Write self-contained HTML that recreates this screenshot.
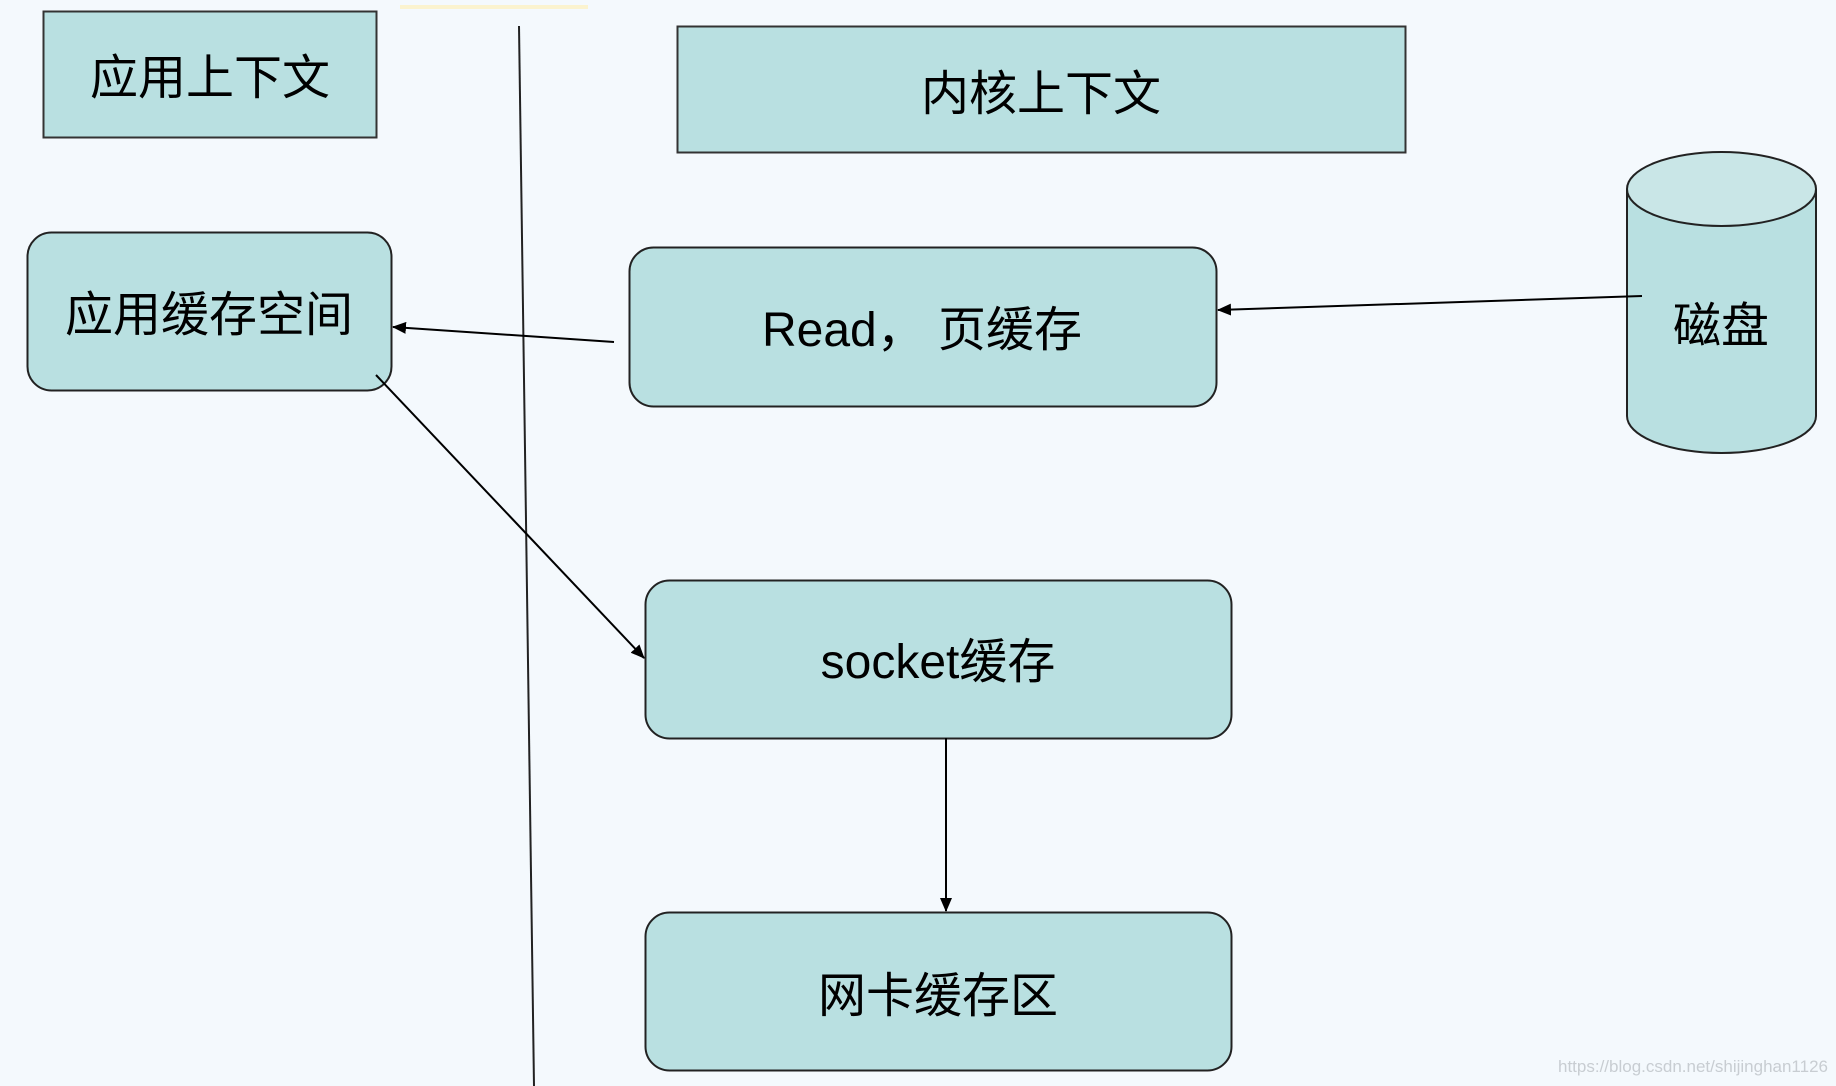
<!DOCTYPE html>
<html><head><meta charset="utf-8"><style>
html,body{margin:0;padding:0;background:#f4f9fd;}
svg{display:block}
text{font-family:"Liberation Sans","Noto Sans CJK SC",sans-serif;fill:#000;}
</style></head><body>
<svg width="1836" height="1086" viewBox="0 0 1836 1086" xmlns="http://www.w3.org/2000/svg">
<defs><marker id="a" markerWidth="14" markerHeight="12" refX="13" refY="6" orient="auto" markerUnits="userSpaceOnUse"><path d="M0,0 L14,6 L0,12 z" fill="#000"/></marker></defs>
<rect width="1836" height="1086" fill="#f4f9fd"/>
<line x1="400" y1="7" x2="588" y2="7" stroke="#fbf3cf" stroke-width="4"/>
<rect x="43.5" y="11.5" width="333" height="126" fill="#b9e0e1" stroke="#333" stroke-width="2"/>
<text x="210" y="94" font-size="48" text-anchor="middle">应用上下文</text>
<line x1="519" y1="26" x2="534" y2="1086" stroke="#222" stroke-width="2"/>
<rect x="677.5" y="26.5" width="728" height="126" fill="#b9e0e1" stroke="#333" stroke-width="2"/>
<text x="1041" y="110" font-size="48" text-anchor="middle">内核上下文</text>
<rect x="27.5" y="232.5" width="364" height="158" rx="24" fill="#b9e0e1" stroke="#222" stroke-width="2"/>
<text x="209" y="331" font-size="48" text-anchor="middle">应用缓存空间</text>
<rect x="629.5" y="247.5" width="587" height="159" rx="24" fill="#b9e0e1" stroke="#222" stroke-width="2"/>
<text x="922" y="346" font-size="48" text-anchor="middle">Read， 页缓存</text>
<path d="M1627,189 L1627,416 A94.5,37 0 0 0 1816,416 L1816,189" fill="#b9e0e1" stroke="#222" stroke-width="2"/>
<ellipse cx="1721.5" cy="189" rx="94.5" ry="37" fill="#c9e6e7" stroke="#222" stroke-width="2"/>
<text x="1721" y="342" font-size="48" text-anchor="middle">磁盘</text>
<rect x="645.5" y="580.5" width="586" height="158" rx="24" fill="#b9e0e1" stroke="#222" stroke-width="2"/>
<text x="938" y="678" font-size="48" text-anchor="middle">socket缓存</text>
<rect x="645.5" y="912.5" width="586" height="158" rx="24" fill="#b9e0e1" stroke="#222" stroke-width="2"/>
<text x="938" y="1012" font-size="48" text-anchor="middle">网卡缓存区</text>
<line x1="614" y1="342" x2="393" y2="327" stroke="#000" stroke-width="2" marker-end="url(#a)"/>
<line x1="1642" y1="296" x2="1218" y2="310" stroke="#000" stroke-width="2" marker-end="url(#a)"/>
<line x1="376" y1="375" x2="644" y2="658" stroke="#000" stroke-width="2" marker-end="url(#a)"/>
<line x1="946" y1="738" x2="946" y2="911" stroke="#000" stroke-width="2" marker-end="url(#a)"/>
<text x="1828" y="1072" font-size="17" text-anchor="end" style="fill:#c8cdd2">https://blog.csdn.net/shijinghan1126</text>
</svg>
</body></html>
